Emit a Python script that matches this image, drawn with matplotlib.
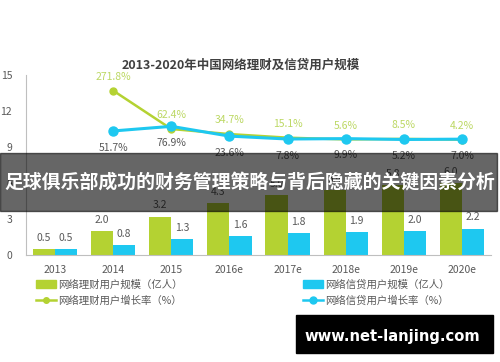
import matplotlib.pyplot as plt
import matplotlib.patches as mpatches
from matplotlib.lines import Line2D
import numpy as np

plt.rcParams['font.family'] = ['Noto Sans CJK SC', 'DejaVu Sans']

# 数据
years = ['2013', '2014', '2015', '2016e', '2017e', '2018e', '2019e', '2020e']
licai_users = [0.5, 2.0, 3.2, 4.3, 5.0, 5.4, 5.8, 6.0]
xindai_users = [0.5, 0.8, 1.3, 1.6, 1.8, 1.9, 2.0, 2.2]
licai_growth = [None, 271.8, 62.4, 34.7, 15.1, 5.6, 8.5, 4.2]
xindai_growth = [None, 51.7, 76.9, 23.6, 7.8, 9.9, 5.2, 7.0]

green = '#b4d232'
blue = '#1ec8f0'
grey = '#595959'

fig = plt.figure(figsize=(5, 3.62), dpi=100)
ax = fig.add_axes([0.052, 0.2956, 0.930, 0.4972])
x = np.arange(len(years))
w = 0.38

b1 = ax.bar(x - w / 2, licai_users, width=w, color=green, zorder=2)
b2 = ax.bar(x + w / 2, xindai_users, width=w, color=blue, zorder=2)
for rect, v in zip(list(b1) + list(b2), licai_users + xindai_users):
    ax.annotate(f'{v:.1f}', (rect.get_x() + rect.get_width() / 2, v),
                xytext=(0, 8), textcoords='offset points',
                ha='center', va='center', fontsize=7.5, color=grey)

ax.set_xlim(-0.5, 7.5)
ax.set_ylim(0, 15)
ax.set_yticks([0, 3, 6, 9, 12, 15])
ax.set_xticks(x)
ax.set_xticklabels(years)
ax.tick_params(axis='both', length=0, labelsize=7.5, labelcolor=grey)
ax.tick_params(axis='y', pad=10)
ax.tick_params(axis='x', pad=7)
for s in ['top', 'right']:
    ax.spines[s].set_visible(False)
for s in ['left', 'bottom']:
    ax.spines[s].set_color('#bfbfbf')

# 增长率（次坐标轴）
ax2 = ax.twinx()
ax2.set_ylim(-625, 357)
ax2.axis('off')
xl = x[1:]
ax2.plot(xl, licai_growth[1:], color=green, lw=1.8, marker='o', ms=5, zorder=3)
ax2.plot(xl, xindai_growth[1:], color=blue, lw=2.2, marker='o', ms=6.5, zorder=4)
for xi, v in zip(xl, licai_growth[1:]):
    ax2.annotate(f'{v}%', (xi, v), xytext=(0, 10), textcoords='offset points',
                 ha='center', va='center', fontsize=7.5, color='#bcd863')
for xi, v in zip(xl, xindai_growth[1:]):
    ax2.annotate(f'{v}%', (xi, v), xytext=(0, -12), textcoords='offset points',
                 ha='center', va='center', fontsize=7.5, color=grey)

fig.text(0.482, 0.820, '2013-2020年中国网络理财及信贷用户规模', ha='center', va='center',
         fontsize=9, fontweight='bold', color='#404040')

handles = [mpatches.Patch(color=green),
           Line2D([], [], color=green, lw=1.8, marker='o', ms=4),
           mpatches.Patch(color=blue),
           Line2D([], [], color=blue, lw=1.8, marker='o', ms=5)]
labels = ['网络理财用户规模（亿人）', '网络理财用户增长率（%）',
          '网络信贷用户规模（亿人）', '网络信贷用户增长率（%）']
fig.legend(handles, labels, ncol=2, loc='upper left', bbox_to_anchor=(0.072, 0.228),
           frameon=False, fontsize=7.5, labelcolor=grey, handlelength=1.9,
           handletextpad=0.2, columnspacing=11.6, labelspacing=0.55,
           borderpad=0, borderaxespad=0)

# 横幅
fig.patches.append(mpatches.Rectangle((0, 1 - 211 / 362), 497 / 500, 58 / 362,
                                      transform=fig.transFigure, color='black',
                                      alpha=0.6, zorder=10))
fig.text(0.5, 1 - 183 / 362, '足球俱乐部成功的财务管理策略与背后隐藏的关键因素分析',
         ha='center', va='center', fontsize=13.6, fontweight='bold', color='white',
         zorder=11)

# 水印
fig.patches.append(mpatches.Rectangle((296 / 500, 1 - 353 / 362), 197 / 500, 38 / 362,
                                      transform=fig.transFigure, color='black',
                                      zorder=10))
fig.text(392 / 500, 1 - 336 / 362, 'www.net-lanjing.com', ha='center', va='center',
         fontsize=10.6, fontweight='bold', color='white', family='DejaVu Sans', zorder=11)

fig.savefig('out.png', dpi=100)
